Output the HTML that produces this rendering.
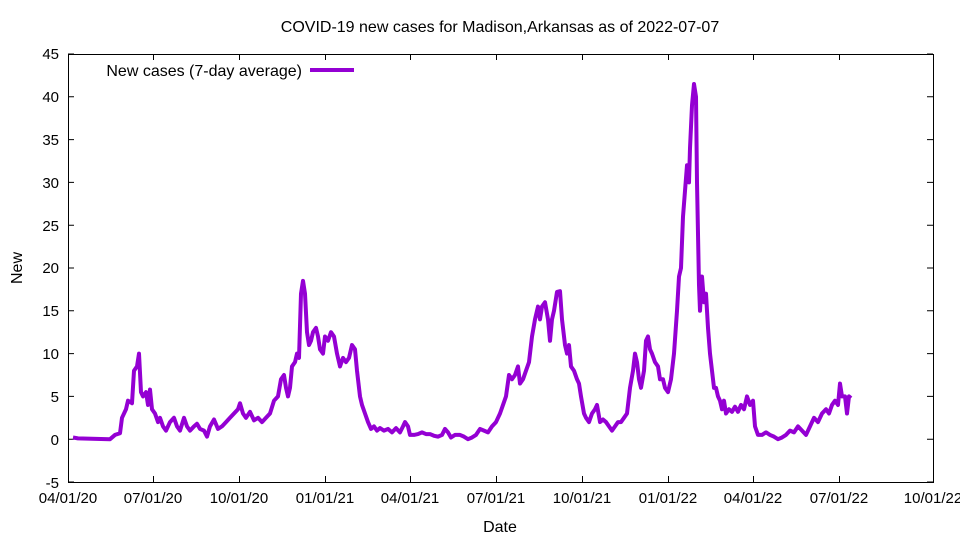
<!DOCTYPE html>
<html><head><meta charset="utf-8"><style>body{margin:0;background:#fff}svg{display:block}text{font-family:"Liberation Sans",sans-serif;font-size:15px;fill:#000}.b{font-size:16px}</style></head><body>
<svg width="960" height="540" viewBox="0 0 960 540">
<text class="b" x="500" y="32" text-anchor="middle">COVID-19 new cases for Madison,Arkansas as of 2022-07-07</text>
<text class="b" x="500" y="532" text-anchor="middle">Date</text>
<text class="b" transform="translate(22,268) rotate(-90)" text-anchor="middle">New</text>
<g stroke="#000" stroke-width="1" fill="none">
<rect x="68.5" y="54.5" width="865" height="428"/>
<path d="M68 482.0h6M933 482.0h-6M68 439.2h6M933 439.2h-6M68 396.4h6M933 396.4h-6M68 353.6h6M933 353.6h-6M68 310.8h6M933 310.8h-6M68 268h6M933 268h-6M68 225.2h6M933 225.2h-6M68 182.4h6M933 182.4h-6M68 139.6h6M933 139.6h-6M68 96.8h6M933 96.8h-6M68 54h6M933 54h-6"/>
<path d="M153.5 482v-6M153.5 54v6M239.5 482v-6M239.5 54v6M325.5 482v-6M325.5 54v6M410.5 482v-6M410.5 54v6M496.5 482v-6M496.5 54v6M582.5 482v-6M582.5 54v6M668.5 482v-6M668.5 54v6M753.5 482v-6M753.5 54v6M839.5 482v-6M839.5 54v6"/>
</g>
<g text-anchor="end">
<text x="59" y="488">-5</text><text x="59" y="445">0</text><text x="59" y="402">5</text><text x="59" y="359">10</text><text x="59" y="316">15</text><text x="59" y="273">20</text><text x="59" y="231">25</text><text x="59" y="188">30</text><text x="59" y="145">35</text><text x="59" y="102">40</text><text x="59" y="59">45</text>
</g>
<g text-anchor="middle">
<text x="68" y="503">04/01/20</text><text x="153" y="503">07/01/20</text><text x="239" y="503">10/01/20</text><text x="325" y="503">01/01/21</text><text x="410" y="503">04/01/21</text><text x="496" y="503">07/01/21</text><text x="582" y="503">10/01/21</text><text x="668" y="503">01/01/22</text><text x="753" y="503">04/01/22</text><text x="839" y="503">07/01/22</text><text x="933" y="503">10/01/22</text>
</g>
<text class="b" x="302" y="76" text-anchor="end">New cases (7-day average)</text>
<line x1="310" y1="70" x2="354" y2="70" stroke="#9400d3" stroke-width="4"/>
<g transform="translate(0,439.2) scale(1,-8.56)">
<polyline fill="none" stroke="#9400d3" stroke-width="4" vector-effect="non-scaling-stroke" stroke-linejoin="round" points="73,0.2 78,0.1 110,0 115,0.5 120,0.7 122,2.5 126,3.5 128,4.5 132,4.2 134,8 137,8.5 139,10 141,5.5 143,5 146,5.5 148,4 150,5.8 152,3.5 155,3 158,2 160,2.5 163,1.5 166,1 170,2 174,2.5 177,1.5 180,1 184,2.5 187,1.5 190,1 194,1.5 197,1.8 200,1.2 204,1 207,0.3 210,1.5 214,2.3 218,1.2 222,1.5 226,2 230,2.5 234,3 238,3.5 240,4.2 243,3 246,2.5 250,3.2 254,2.2 258,2.5 262,2 266,2.5 270,3 274,4.5 278,5 281,7 284,7.5 286,6 288,5 290,6 292,8.5 295,9 297,10 299,9.5 301,17 303,18.5 305,17 307,12.5 309,11 311,11.5 313,12.5 316,13 318,12 320,10.5 323,10 325,12 328,11.5 331,12.5 334,12 337,10 340,8.5 343,9.5 346,9 349,9.5 352,11 355,10.5 357,8 360,5 362,4 365,3 368,2 371,1.2 374,1.5 377,1 380,1.3 384,1 388,1.2 392,0.8 396,1.3 400,0.8 403,1.5 405,2 408,1.5 410,0.5 414,0.5 418,0.6 422,0.8 426,0.6 430,0.6 434,0.4 438,0.3 442,0.5 445,1.2 448,0.8 451,0.2 455,0.5 460,0.5 464,0.3 468,0 472,0.2 476,0.5 480,1.2 484,1 488,0.8 492,1.5 496,2 500,3 503,4 506,5 509,7.5 512,7 515,7.5 518,8.5 520,6.5 523,7 526,8 529,9 532,12 535,14 538,15.5 540,14 542,15.5 545,16 548,14 550,11.5 552,14 554,15 557,17.2 560,17.3 562,14 565,11 567,10 569,11 571,8.5 574,8 577,7 579,6.5 581,5 584,3 586,2.5 589,2 592,3 595,3.5 597,4 600,2 603,2.3 606,2 609,1.5 612,1 615,1.5 618,2 621,2 624,2.5 627,3 630,6 633,8 635,10 637,9 639,7 641,6 644,8 646,11.5 648,12 650,10.5 652,10 655,9 658,8.5 660,7 663,7 665,6 668,5.5 671,7 674,10 677,15 679,19 681,20 683,26 685,29 687,32 689,30 690,34 692,39 694,41.5 696,40 697,30 699,18 700,15 702,19 704,16 706,17 708,13 710,10 712,8 714,6 716,6 718,5 720,4.5 722,3.5 724,4.5 726,3 729,3.5 732,3.2 735,3.8 738,3.2 741,4 744,3.5 747,5 750,4 753,4.5 755,1.5 758,0.5 762,0.5 766,0.8 770,0.5 774,0.3 778,0 782,0.2 786,0.5 790,1 794,0.8 798,1.5 802,1 806,0.5 810,1.5 814,2.5 818,2 822,3 826,3.5 829,3 832,4 835,4.5 838,4 840,6.5 842,5 845,5 847,3 849,5 851,4.8"/>
</g>
</svg>
</body></html>
